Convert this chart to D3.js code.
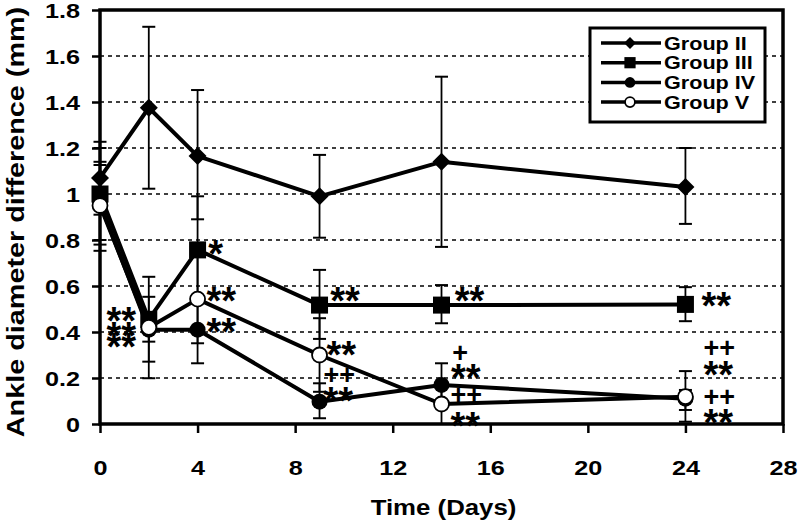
<!DOCTYPE html>
<html><head><meta charset="utf-8">
<script src="https://cdn.jsdelivr.net/npm/d3@7"></script>
<style>
html,body{margin:0;padding:0;background:#fff;}
text{font-family:"Liberation Sans",Arial,sans-serif;font-weight:bold;fill:#000;}
</style></head>
<body><svg id="c" width="799" height="528"></svg>
<script>
// ---- data ----
const days = [0, 2, 4, 9, 14, 24];
const groupII      = [1.07, 1.375, 1.165, 0.99, 1.14, 1.03];
const groupIIUp    = [1.227, 1.727, 1.452, 1.17, 1.51, 1.20];
const groupIILo    = [0.91, 1.023, 0.89, 0.81, 0.77, 0.87];
const groupIII     = [1.0, 0.455, 0.757, 0.517, 0.517, 0.52];
const groupIIIUp   = [1.2, 0.64, 0.99, 0.67, 0.604, 0.595];
const groupIIILo   = [0.8, 0.271, 0.53, 0.37, 0.438, 0.447];
const groupIV      = [0.96, 0.41, 0.41, 0.097, 0.17, 0.11];
const groupIVUp    = [1.14, 0.553, 0.556, 0.177, 0.264, 0.148];
const groupIVLo    = [0.78, 0.199, 0.264, 0.025, 0.076, 0.061];
const groupV       = [0.95, 0.42, 0.543, 0.30, 0.087, 0.119];
const groupVUp     = [1.126, 0.48, 0.73, 0.46, 0.18, 0.23];
const groupVLo     = [0.753, 0.358, 0.351, 0.14, 0.0, 0.01];
const seriesNames  = ["Group II", "Group III", "Group IV", "Group V"];
const xTicks = [0, 4, 8, 12, 16, 20, 24, 28];
const yTicks = [0, 0.2, 0.4, 0.6, 0.8, 1, 1.2, 1.4, 1.6, 1.8];
const xTitle = "Time (Days)";
const yTitle = "Ankle diameter difference (mm)";
// significance marks: [day, value (glyph centre), text]
const annotations = [
  [0.33, 0.483, "**"], [0.33, 0.42, "**"], [0.33, 0.37, "**"],
  [4.5, 0.778, "*"], [4.43, 0.57, "**"], [4.43, 0.435, "**"],
  [9.5, 0.57, "**"], [9.35, 0.335, "**"], [9.22, 0.216, "++"], [9.22, 0.139, "**"],
  [14.6, 0.57, "**"], [14.5, 0.309, "+"], [14.45, 0.235, "**"], [14.43, 0.126, "++"], [14.43, 0.03, "**"],
  [24.72, 0.548, "**"], [24.8, 0.33, "++"], [24.8, 0.252, "**"], [24.8, 0.117, "++"], [24.8, 0.043, "**"]
];

// ---- build ----
const series = [
  {name: seriesNames[0], v: groupII, up: groupIIUp, lo: groupIILo, shape: "diamond"},
  {name: seriesNames[1], v: groupIII, up: groupIIIUp, lo: groupIIILo, shape: "square"},
  {name: seriesNames[2], v: groupIV, up: groupIVUp, lo: groupIVLo, shape: "dot"},
  {name: seriesNames[3], v: groupV, up: groupVUp, lo: groupVLo, shape: "open"}
];
const svg = d3.select("#c");
const x = d3.scaleLinear().domain([0, 28]).range([100, 783]);
const y = d3.scaleLinear().domain([0, 1.8]).range([424, 10]);
const SX = 1.2; // horizontal stretch of the original lettering

// gridlines
svg.append("g").selectAll("line").data(yTicks.filter(d => d > 0 && d < 1.8)).join("line")
  .attr("x1", x(0)).attr("x2", x(28)).attr("y1", d => y(d)).attr("y2", d => y(d))
  .attr("stroke", "#000").attr("stroke-width", 1.5).attr("stroke-dasharray", "4,4");

// axes
const gy = svg.append("g").attr("transform", `translate(${x(0)},0)`)
  .call(d3.axisLeft(y).tickValues(yTicks).tickSize(8).tickFormat(d => String(d)));
gy.select(".domain").remove();
gy.selectAll(".tick line").attr("stroke-width", 2.5);
gy.selectAll(".tick text").attr("font-size", 21).attr("x", -20 / SX).attr("dy", "0.36em")
  .attr("transform", `scale(${SX},1)`).attr("font-family", null);

const gx = svg.append("g").attr("transform", `translate(0,${y(0)})`)
  .call(d3.axisBottom(x).tickValues(xTicks).tickSize(9).tickFormat(d => String(d)));
gx.select(".domain").remove();
gx.selectAll(".tick line").attr("stroke-width", 2.5);
gx.selectAll(".tick text").attr("font-size", 21).attr("y", 51.5).attr("dy", 0)
  .attr("transform", `scale(${SX},1)`).attr("font-family", null);

// frame
svg.append("rect").attr("x", x(0)).attr("y", y(1.8)).attr("width", x(28) - x(0)).attr("height", y(0) - y(1.8))
  .attr("fill", "none").attr("stroke", "#000").attr("stroke-width", 3.5);

// titles
svg.append("text").attr("transform", `translate(${(x(0)+x(28))/2 + 2},515) scale(${SX},1)`)
  .attr("text-anchor", "middle").attr("font-size", 21.5).text(xTitle);
svg.append("text").attr("transform", `translate(24,222) rotate(-90) scale(${SX},1)`)
  .attr("text-anchor", "middle").attr("font-size", 24).text(yTitle);

// error bars
const eb = svg.append("g");
series.forEach(s => {
  days.forEach((d, i) => {
    const cx = x(d);
    eb.append("line").attr("x1", cx).attr("x2", cx).attr("y1", y(s.up[i])).attr("y2", y(s.lo[i]))
      .attr("stroke", "#000").attr("stroke-width", 1.8);
    [s.up[i], s.lo[i]].forEach(v => {
      eb.append("line").attr("x1", cx - 6.5).attr("x2", cx + 6.5).attr("y1", y(v)).attr("y2", y(v))
        .attr("stroke", "#000").attr("stroke-width", 2);
    });
  });
});

function marker(g, shape, cx, cy, k) {
  if (shape === "diamond") {
    const r = 9 * k;
    g.append("path").attr("d", `M${cx},${cy - r}L${cx + r},${cy}L${cx},${cy + r}L${cx - r},${cy}Z`).attr("fill", "#000");
  } else if (shape === "square") {
    const h = 8.5 * k;
    g.append("rect").attr("x", cx - h).attr("y", cy - h).attr("width", 2 * h).attr("height", 2 * h).attr("fill", "#000");
  } else if (shape === "dot") {
    g.append("circle").attr("cx", cx).attr("cy", cy).attr("r", 8 * k).attr("fill", "#000");
  } else {
    g.append("circle").attr("cx", cx).attr("cy", cy).attr("r", 7.5 * k).attr("fill", "#fff")
      .attr("stroke", "#000").attr("stroke-width", 1.8);
  }
}

// lines + markers
const line = d3.line().x((d, i) => x(days[i])).y(d => y(d));
series.forEach(s => {
  const g = svg.append("g");
  g.append("path").attr("d", line(s.v)).attr("fill", "none").attr("stroke", "#000")
    .attr("stroke-width", 4).attr("stroke-linejoin", "round");
  s.v.forEach((v, i) => marker(g, s.shape, x(days[i]), y(v), 1));
});

// annotations
svg.append("g").selectAll("text").data(annotations).join("text")
  .attr("x", d => x(d[0]) - (d[2][0] === "*" ? 1.5 : 1.5))
  .attr("y", d => y(d[1]) + (d[2][0] === "*" ? 21.5 : 9.3))
  .attr("font-size", d => d[2][0] === "*" ? 38 : 27)
  .text(d => d[2]);

// legend
const lg = svg.append("g");
lg.append("rect").attr("x", 590).attr("y", 28).attr("width", 175).attr("height", 94)
  .attr("fill", "#fff").attr("stroke", "#000").attr("stroke-width", 3);
series.forEach((s, i) => {
  const ry = 43 + i * 19.7;
  lg.append("line").attr("x1", 601).attr("x2", 661).attr("y1", ry).attr("y2", ry)
    .attr("stroke", "#000").attr("stroke-width", 3.5);
  marker(lg, s.shape, 630, ry, 0.66);
  lg.append("text").attr("transform", `translate(664,${ry + 6.5}) scale(${SX},1)`)
    .attr("font-size", 18).text(s.name);
});
</script></body></html>
